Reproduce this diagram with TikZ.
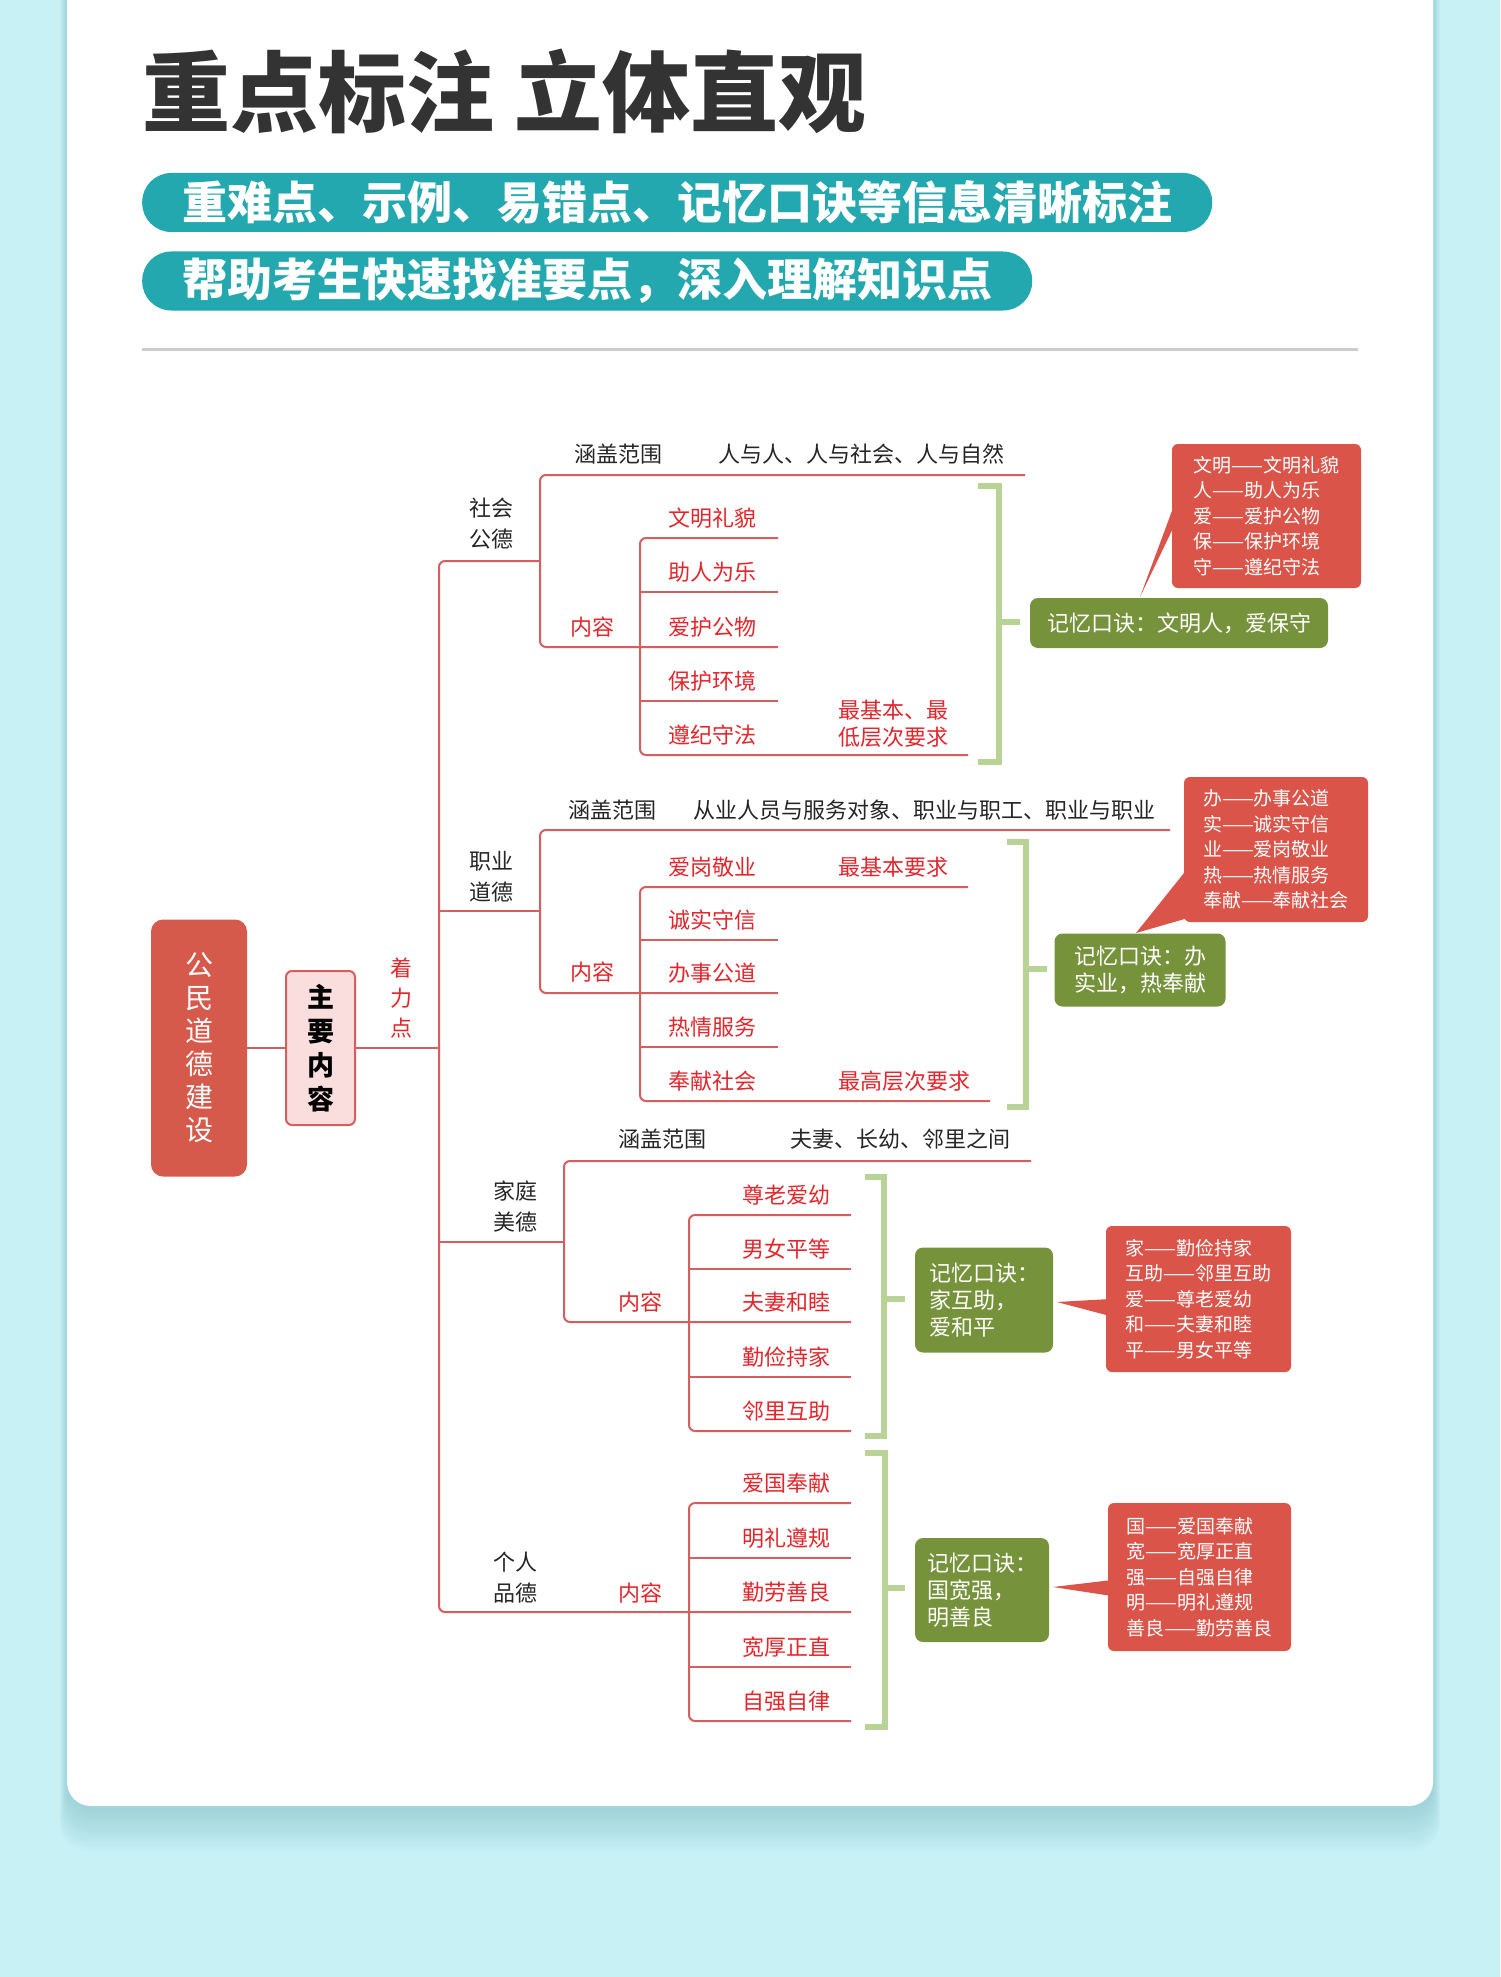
\documentclass[tikz,border=0pt]{standalone}
\usepackage{fontspec}
\setmainfont{Noto Sans CJK SC}

\definecolor{bgcyan}{HTML}{C7F1F5}
\definecolor{cardshade}{HTML}{7FBFC8}
\definecolor{titlegray}{HTML}{333333}
\definecolor{pillteal}{HTML}{22A8AE}
\definecolor{mapred}{HTML}{D45F5F}
\definecolor{itemred}{HTML}{E3262C}
\definecolor{rootred}{HTML}{D65A4C}
\definecolor{mainpink}{HTML}{F9DEDD}
\definecolor{memogreen}{HTML}{76933C}
\definecolor{bracegreen}{HTML}{B9D296}
\definecolor{keyred}{HTML}{DA5449}

\begin{document}
\begin{tikzpicture}[x=1pt, y=-1pt,
    mapline/.style={draw=mapred, line width=2pt, rounded corners=6pt},
    itemtext/.style={text=itemred, inner sep=0pt, font=\fontsize{22}{26}\selectfont},
    tagtext/.style={text=black!85, inner sep=0pt, align=center, font=\fontsize{22}{31}\selectfont},
    notetext/.style={text=itemred, inner sep=0pt, anchor=west, align=left, font=\fontsize{22}{27}\selectfont},
    memobox/.style={fill=memogreen, rounded corners=8pt, text=white, align=left, inner sep=0pt, font=\fontsize{22}{27}\selectfont},
    keybox/.style={fill=keyred, rounded corners=6pt, text=white, align=left, inner sep=0pt, font=\fontsize{19}{25.4}\selectfont},
    bracket/.style={draw=bracegreen, line width=6pt},
    pill/.style={fill=pillteal, rounded corners=29pt, text=white, anchor=west, inner xsep=40pt, minimum height=59pt, font=\fontsize{45}{50}\selectfont\bfseries}]

    \useasboundingbox (0,0) rectangle (1500,1977);
    \fill[bgcyan] (0,0) rectangle (1500,1977);

    % Card with soft shadow
    \foreach \k in {1,...,14}
        \fill[cardshade, opacity=0.045, rounded corners=26pt] (67-\k*0.5,-40) rectangle (1433+\k*0.5,1808+\k*3);
    \fill[white, rounded corners=24pt] (67,-40) rectangle (1433,1806);

    % Heading
    \node[anchor=west, inner sep=0pt, text=titlegray, font=\fontsize{88}{92}\selectfont\bfseries] (title) at (142,91) {重点标注 立体直观};
    \node[pill] (pillA) at (142,202.5) {重难点、示例、易错点、记忆口诀等信息清晰标注};
    \node[pill] (pillB) at (142,281) {帮助考生快速找准要点，深入理解知识点};
    \draw[black!20, line width=3pt] (142,349) -- (1358,349);

    % Root and main content
    \node[fill=rootred, rounded corners=12pt, minimum width=96pt, minimum height=257pt, text=white, align=center, font=\fontsize{28}{33}\selectfont] (root) at (199,1048) {公\\民\\道\\德\\建\\设};
    \node[fill=mainpink, draw=mapred, line width=2pt, rounded corners=6pt, minimum width=69pt, minimum height=154pt, align=center, font=\fontsize{27}{34}\selectfont\bfseries] (zhuyao) at (320.5,1048) {主\\要\\内\\容};
    \coordinate (hub) at (439,1048);
    \draw[mapline] (root) -- (zhuyao);
    \draw[mapline] (zhuyao) -- (hub);
    \node[itemtext, align=center, font=\fontsize{22}{30}\selectfont] (zhuoli) at (401,998) {着\\力\\点};

    % Trunk and branches
    \draw[mapline] (540,561) -- (439,561) -- (439,1612) -- (851,1612);
    \draw[mapline] (439,911) -- (540,911);
    \draw[mapline] (439,1242) -- (564,1242);

    % Group for social morality
    \draw[mapline] (1025,475) -- (540,475) -- (540,647) -- (778,647);
    \draw[mapline] (778,538) -- (640,538) -- (640,755) -- (968,755);
    \draw[mapline] (640,592) -- (778,592);
    \draw[mapline] (640,701) -- (778,701);
    \node[tagtext] (gongde) at (491,523.5) {社会\\公德};
    \node[tagtext] (fanwei1) at (618,454) {涵盖范围};
    \node[tagtext, anchor=west] (range1) at (718,454) {人与人、人与社会、人与自然};
    \node[itemtext] (neirong1) at (592,627) {内容};
    \node[itemtext] (g1a) at (712,518) {文明礼貌};
    \node[itemtext] (g1b) at (712,572) {助人为乐};
    \node[itemtext] (g1c) at (712,627) {爱护公物};
    \node[itemtext] (g1d) at (712,681) {保护环境};
    \node[itemtext] (g1e) at (712,735) {遵纪守法};
    \node[notetext] (note1) at (838,723.5) {最基本、最\\低层次要求};
    \draw[bracket] (978,486) -- (999,486) -- (999,762) -- (978,762);
    \draw[bracket] (999,622) -- (1020,622);
    \node[memobox, minimum width=298pt, minimum height=50pt] (memo1) at (1179,623) {记忆口诀：文明人，爱保守};
    \fill[keyred] (1176,500) -- (1176,522) -- (1140,597) -- cycle;
    \node[keybox, minimum width=189pt, minimum height=144pt] (key1) at (1266.5,516) {文明——文明礼貌\\人——助人为乐\\爱——爱护公物\\保——保护环境\\守——遵纪守法};

    % Group for professional ethics
    \draw[mapline] (1170,830) -- (540,830) -- (540,993) -- (778,993);
    \draw[mapline] (968,887) -- (640,887) -- (640,1101) -- (990,1101);
    \draw[mapline] (640,940) -- (778,940);
    \draw[mapline] (640,1047) -- (778,1047);
    \node[tagtext] (zhiye) at (491,877) {职业\\道德};
    \node[tagtext] (fanwei2) at (612,810) {涵盖范围};
    \node[tagtext, anchor=west] (range2) at (693,810) {从业人员与服务对象、职业与职工、职业与职业};
    \node[itemtext] (neirong2) at (592,972) {内容};
    \node[itemtext] (g2a) at (712,867) {爱岗敬业};
    \node[itemtext] (g2b) at (712,920) {诚实守信};
    \node[itemtext] (g2c) at (712,973) {办事公道};
    \node[itemtext] (g2d) at (712,1027) {热情服务};
    \node[itemtext] (g2e) at (712,1081) {奉献社会};
    \node[notetext] (note2) at (838,867) {最基本要求};
    \node[notetext] (note3) at (838,1081) {最高层次要求};
    \draw[bracket] (1007,842) -- (1026,842) -- (1026,1107) -- (1007,1107);
    \draw[bracket] (1026,969) -- (1047,969);
    \node[memobox, minimum width=171pt, minimum height=73pt] (memo2) at (1140,970) {记忆口诀：办\\实业，热奉献};
    \fill[keyred] (1188,868) -- (1188,918) -- (1136,933) -- cycle;
    \node[keybox, minimum width=184pt, minimum height=145pt] (key2) at (1276,849.5) {办——办事公道\\实——诚实守信\\业——爱岗敬业\\热——热情服务\\奉献——奉献社会};

    % Group for family virtues
    \draw[mapline] (1031,1161) -- (564,1161) -- (564,1322) -- (851,1322);
    \draw[mapline] (851,1215) -- (689,1215) -- (689,1431) -- (851,1431);
    \draw[mapline] (689,1269) -- (851,1269);
    \draw[mapline] (689,1377) -- (851,1377);
    \node[tagtext] (jiating) at (515,1207) {家庭\\美德};
    \node[tagtext] (fanwei3) at (662,1139) {涵盖范围};
    \node[tagtext, anchor=west] (range3) at (790,1139) {夫妻、长幼、邻里之间};
    \node[itemtext] (neirong3) at (640,1302) {内容};
    \node[itemtext] (g3a) at (786,1195) {尊老爱幼};
    \node[itemtext] (g3b) at (786,1249) {男女平等};
    \node[itemtext] (g3c) at (786,1302) {夫妻和睦};
    \node[itemtext] (g3d) at (786,1357) {勤俭持家};
    \node[itemtext] (g3e) at (786,1411) {邻里互助};
    \draw[bracket] (865,1177) -- (884,1177) -- (884,1436) -- (865,1436);
    \draw[bracket] (884,1299) -- (905,1299);
    \node[memobox, minimum width=138pt, minimum height=105pt] (memo3) at (984,1300) {记忆口诀：\\家互助，\\爱和平};
    \fill[keyred] (1110,1299) -- (1110,1316) -- (1057,1302) -- cycle;
    \node[keybox, minimum width=185pt, minimum height=146pt] (key3) at (1198.5,1299) {家——勤俭持家\\互助——邻里互助\\爱——尊老爱幼\\和——夫妻和睦\\平——男女平等};

    % Group for personal character
    \draw[mapline] (851,1503) -- (689,1503) -- (689,1721) -- (851,1721);
    \draw[mapline] (689,1558) -- (851,1558);
    \draw[mapline] (689,1667) -- (851,1667);
    \node[tagtext] (geren) at (515,1578) {个人\\品德};
    \node[itemtext] (neirong4) at (640,1593) {内容};
    \node[itemtext] (g4a) at (786,1483) {爱国奉献};
    \node[itemtext] (g4b) at (786,1538) {明礼遵规};
    \node[itemtext] (g4c) at (786,1592) {勤劳善良};
    \node[itemtext] (g4d) at (786,1647) {宽厚正直};
    \node[itemtext] (g4e) at (786,1701) {自强自律};
    \draw[bracket] (865,1453) -- (885,1453) -- (885,1727) -- (865,1727);
    \draw[bracket] (885,1588) -- (905,1588);
    \node[memobox, minimum width=134pt, minimum height=104pt] (memo4) at (982,1590) {记忆口诀：\\国宽强，\\明善良};
    \fill[keyred] (1112,1580) -- (1112,1596) -- (1053,1587) -- cycle;
    \node[keybox, minimum width=183pt, minimum height=148pt] (key4) at (1199.5,1577) {国——爱国奉献\\宽——宽厚正直\\强——自强自律\\明——明礼遵规\\善良——勤劳善良};

\end{tikzpicture}
\end{document}
